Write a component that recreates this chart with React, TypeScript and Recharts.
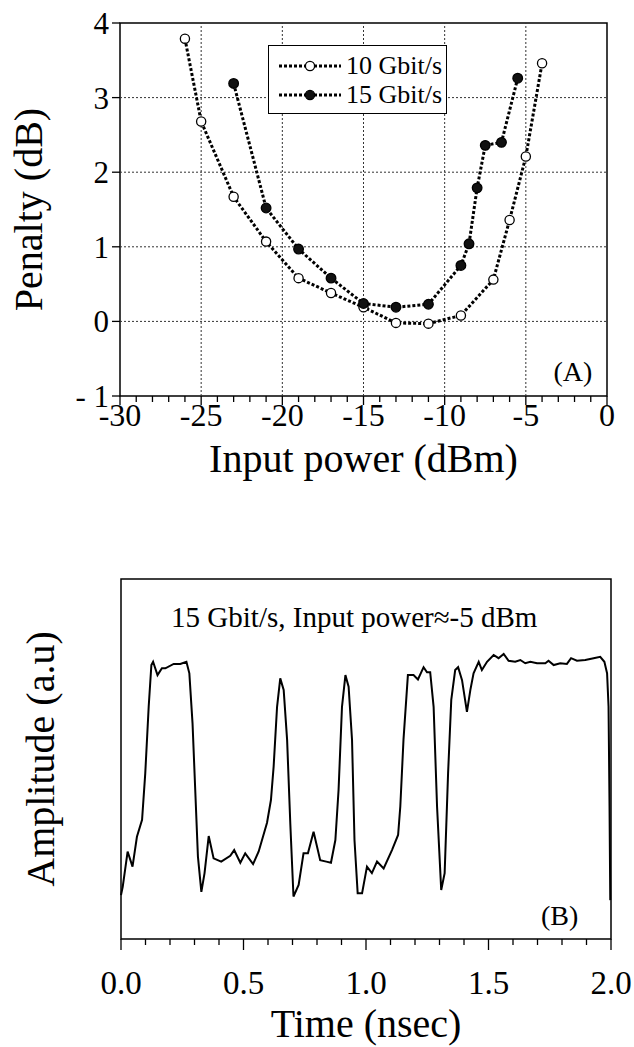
import React from 'react';
import { LineChart, Line, XAxis, YAxis, ReferenceLine, ReferenceArea, ReferenceDot, Legend } from 'recharts';

const FONT = '"Liberation Serif", "Times New Roman", serif';

// (A) penalty vs input power
const power10 = [-26, -25, -23, -21, -19, -17, -15, -13, -11, -9, -7, -6, -5, -4];
const penalty10 = [3.79, 2.68, 1.67, 1.07, 0.58, 0.38, 0.19, -0.02, -0.03, 0.08, 0.56, 1.36, 2.21, 3.46];
const power15 = [-23, -21, -19, -17, -15, -13, -11, -9, -8.5, -8, -7.5, -6.5, -5.5];
const penalty15 = [3.19, 1.52, 0.97, 0.58, 0.24, 0.19, 0.23, 0.75, 1.04, 1.79, 2.36, 2.4, 3.26];

const powerTicks = Array.from({ length: 31 }, (_, i) => i - 30);
const penaltyTicks = [-1, 0, 1, 2, 3, 4];
const powerGrid = [-25, -20, -15, -10, -5];
const penaltyGrid = [0, 1, 2, 3];

// (B) waveform, 15 Gbit/s at about -5 dBm
const timeNs = [
  0, 0.007, 0.027, 0.047, 0.065, 0.086, 0.099, 0.113, 0.124, 0.131, 0.149, 0.167, 0.181, 0.215, 0.242, 0.267,
  0.279, 0.292, 0.303, 0.314, 0.328, 0.341, 0.358, 0.378, 0.409, 0.446, 0.462, 0.487, 0.507, 0.539, 0.562,
  0.596, 0.612, 0.623, 0.637, 0.65, 0.664, 0.678, 0.691, 0.704, 0.725, 0.745, 0.763, 0.786, 0.813, 0.838,
  0.857, 0.875, 0.888, 0.902, 0.916, 0.929, 0.943, 0.953, 0.966, 0.984, 1.004, 1.024, 1.045, 1.072, 1.106,
  1.131, 1.14, 1.153, 1.171, 1.194, 1.212, 1.235, 1.249, 1.262, 1.276, 1.29, 1.307, 1.321, 1.335, 1.348,
  1.364, 1.376, 1.392, 1.412, 1.426, 1.439, 1.46, 1.473, 1.494, 1.521, 1.541, 1.562, 1.582, 1.609, 1.63,
  1.65, 1.671, 1.698, 1.732, 1.745, 1.766, 1.793, 1.82, 1.837, 1.861, 1.895, 1.929, 1.956, 1.973, 1.984,
  1.99, 1.994, 1.997,
];
const amplitude = [
  0.122, 0.145, 0.243, 0.201, 0.284, 0.331, 0.46, 0.645, 0.761, 0.77, 0.733, 0.752, 0.752, 0.764, 0.764, 0.77,
  0.738, 0.599, 0.414, 0.229, 0.131, 0.183, 0.286, 0.224, 0.215, 0.231, 0.247, 0.212, 0.238, 0.208, 0.243,
  0.323, 0.386, 0.479, 0.645, 0.724, 0.692, 0.553, 0.321, 0.118, 0.15, 0.238, 0.238, 0.298, 0.219, 0.215,
  0.212, 0.275, 0.414, 0.645, 0.733, 0.701, 0.553, 0.275, 0.127, 0.127, 0.201, 0.183, 0.215, 0.196, 0.247,
  0.289, 0.368, 0.553, 0.733, 0.733, 0.721, 0.755, 0.741, 0.741, 0.645, 0.368, 0.136, 0.183, 0.46, 0.664,
  0.747, 0.755, 0.719, 0.631, 0.692, 0.738, 0.77, 0.747, 0.77, 0.789, 0.78, 0.792, 0.773, 0.77, 0.775,
  0.766, 0.77, 0.766, 0.766, 0.773, 0.761, 0.766, 0.764, 0.78, 0.773, 0.775, 0.78, 0.784, 0.77, 0.738,
  0.645, 0.368, 0.108,
];
const timeTicks = Array.from({ length: 21 }, (_, i) => i / 10);

const rows10 = power10.map((x, i) => ({ x, y: penalty10[i] }));
const rows15 = power15.map((x, i) => ({ x, y: penalty15[i] }));
const waveRows = timeNs.map((t, i) => ({ t, a: amplitude[i] }));

const makeTick = (gap: number, labelGap: number, every: number, majorLen: number, minorLen: number, fontSize: number, fmt: (v: number) => string) =>
  (p: any) => {
    const { x, y, payload } = p;
    const v = payload.value;
    const y0 = y - gap;
    const major = Math.abs(v / every - Math.round(v / every)) < 1e-6;
    return (
      <g>
        <line x1={x} x2={x} y1={y0} y2={y0 + (major ? majorLen : minorLen)} stroke="#000" strokeWidth={1.3} />
        {major && (
          <text x={x} y={y0 + labelGap} dy="0.71em" textAnchor="middle" fontSize={fontSize} fontFamily={FONT} fill="#000">
            {fmt(v)}
          </text>
        )}
      </g>
    );
  };

const dash = '3 2';

const LegendBox = () => (
  <div style={{ border: '1.5px solid #000', background: '#fff', padding: '5px 4px 4px 10px', fontFamily: FONT, fontSize: 26, lineHeight: '29px', color: '#000' }}>
    {[
      { name: '10 Gbit/s', filled: false },
      { name: '15 Gbit/s', filled: true },
    ].map((s) => (
      <div key={s.name} style={{ display: 'flex', alignItems: 'center', whiteSpace: 'nowrap' }}>
        <svg width={62} height={29}>
          <line x1={0} x2={62} y1={15} y2={15} stroke="#000" strokeWidth={3} strokeDasharray={dash} />
          <circle cx={31} cy={15} r={4.6} fill={s.filled ? '#111' : '#fff'} stroke="#000" strokeWidth={1.3} />
        </svg>
        <span style={{ marginLeft: 5 }}>{s.name}</span>
      </div>
    ))}
  </div>
);

const labelStyle = { fontFamily: FONT, fill: '#000' };

export default function App() {
  return (
    <div style={{ position: 'absolute', left: 0, top: 0, width: 634, height: 1047, background: '#fff', fontFamily: FONT }}>
      <div style={{ position: 'absolute', left: 0, top: 0 }}>
        <LineChart width={634} height={500} margin={{ top: 23, right: 27, left: 0, bottom: 0 }}>
          <XAxis
            type="number"
            dataKey="x"
            domain={[-30, 0]}
            ticks={powerTicks}
            interval={0}
            tickSize={8}
            tickMargin={0}
            tickLine={false}
            axisLine={false}
            height={104}
            tick={makeTick(8, 7, 5, 9, 6, 32, (v) => String(v))}
            label={{ value: 'Input power (dBm)', position: 'insideBottom', offset: 28, fontSize: 40, ...labelStyle }}
          />
          <YAxis
            type="number"
            domain={[-1, 4]}
            ticks={penaltyTicks}
            interval={0}
            width={120}
            tickSize={8}
            tickMargin={3}
            axisLine={false}
            tickLine={{ stroke: '#000', strokeWidth: 1.3 }}
            tick={{ fontSize: 31, fill: '#000', fontFamily: FONT }}
            tickFormatter={(v: number) => (v < 0 ? `- ${-v}` : String(v))}
            label={{ value: 'Penalty (dB)', angle: -90, position: 'insideLeft', offset: 28, fontSize: 40, style: { textAnchor: 'middle' }, ...labelStyle }}
          />
          {powerGrid.map((v) => (
            <ReferenceLine key={`gx${v}`} x={v} stroke="#333" strokeWidth={1} strokeDasharray="2 2" />
          ))}
          {penaltyGrid.map((v) => (
            <ReferenceLine key={`gy${v}`} y={v} stroke="#333" strokeWidth={1} strokeDasharray="2 2" />
          ))}
          <ReferenceArea x1={-30} x2={0} y1={-1} y2={4} fill="none" stroke="#000" strokeWidth={1.5} />
          <Line
            data={rows10}
            dataKey="y"
            type="linear"
            stroke="#000"
            strokeWidth={3}
            strokeDasharray={dash}
            dot={{ r: 4.6, fill: '#fff', stroke: '#000', strokeWidth: 1.3, strokeDasharray: 'none' }}
            isAnimationActive={false}
          />
          <Line
            data={rows15}
            dataKey="y"
            type="linear"
            stroke="#000"
            strokeWidth={3}
            strokeDasharray={dash}
            dot={{ r: 4.8, fill: '#111', stroke: '#000', strokeWidth: 1.3, strokeDasharray: 'none' }}
            isAnimationActive={false}
          />
          <ReferenceDot x={-2.1} y={-0.66} r={0} fill="none" stroke="none" label={{ value: '(A)', position: 'center', fontSize: 28, ...labelStyle }} />
          <Legend layout="vertical" align="center" verticalAlign="middle" wrapperStyle={{ left: 268, top: 45, width: 'auto' }} content={() => <LegendBox />} />
        </LineChart>
      </div>
      <div style={{ position: 'absolute', left: 0, top: 540 }}>
        <LineChart width={634} height={507} data={waveRows} margin={{ top: 39, right: 23, left: 0, bottom: 0 }}>
          <XAxis
            type="number"
            dataKey="t"
            domain={[0, 2]}
            ticks={timeTicks}
            interval={0}
            tickSize={10}
            tickMargin={25}
            tickLine={false}
            axisLine={false}
            height={108}
            tick={makeTick(35, 32, 0.5, 11, 6, 33, (v) => v.toFixed(1))}
            label={{ value: 'Time (nsec)', position: 'insideBottom', offset: 10, fontSize: 40, ...labelStyle }}
          />
          <YAxis
            type="number"
            domain={[0, 1]}
            width={121}
            tick={false}
            tickLine={false}
            axisLine={false}
            label={{ value: 'Amplitude (a.u)', angle: -90, position: 'insideLeft', offset: 40, fontSize: 40, style: { textAnchor: 'middle' }, ...labelStyle }}
          />
          <ReferenceArea x1={0} x2={2} y1={0} y2={1} fill="none" stroke="#000" strokeWidth={1.5} />
          <Line dataKey="a" type="linear" stroke="#000" strokeWidth={2} dot={false} isAnimationActive={false} />
          <ReferenceDot x={0.952} y={0.894} r={0} fill="none" stroke="none" label={{ value: '15 Gbit/s, Input power≈-5 dBm', position: 'center', fontSize: 29, ...labelStyle }} />
          <ReferenceDot x={1.79} y={0.067} r={0} fill="none" stroke="none" label={{ value: '(B)', position: 'center', fontSize: 28, ...labelStyle }} />
        </LineChart>
      </div>
    </div>
  );
}
